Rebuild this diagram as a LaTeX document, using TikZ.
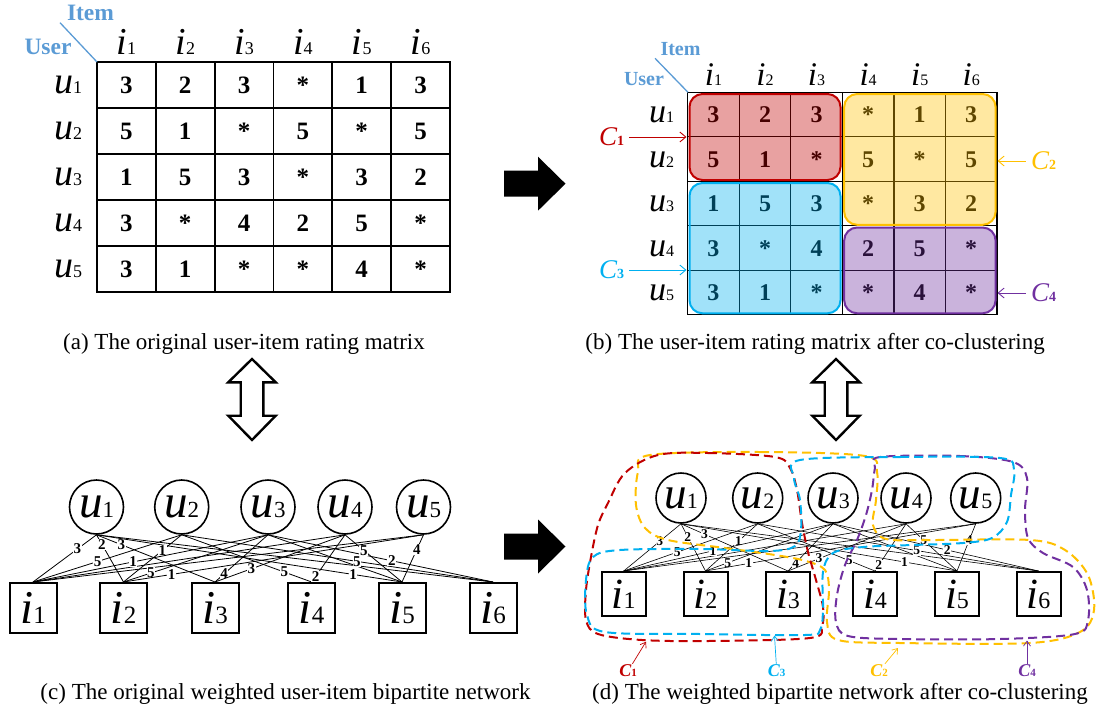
\documentclass[tikz,border=0pt]{standalone}
\usepackage{fontspec}
\setmainfont{Liberation Serif}
\usetikzlibrary{arrows.meta}
\definecolor{cred}{HTML}{C00000}
\definecolor{cyel}{HTML}{FFC000}
\definecolor{cblu}{HTML}{00B0F0}
\definecolor{cpur}{HTML}{7030A0}
\definecolor{hdr}{HTML}{5B9BD5}
% italic letter followed by an upright index
\newcommand\sym[4]{{\fontsize{#3}{#3}\selectfont\itshape #1}{\fontsize{#4}{#4}\selectfont #2}}
% cluster name C with a bold index
\newcommand\cname[3]{{\fontsize{#2}{#2}\selectfont\itshape C}{\fontsize{#3}{#3}\selectfont\bfseries #1}}
\newcommand\fs[1]{\fontsize{#1}{#1}\selectfont}

\begin{document}
\begin{tikzpicture}[x=1pt,y=-1pt,
  rcell/.style={font=\fs{25}\bfseries, text height=17pt, text depth=0pt, inner sep=0pt},
  rcellb/.style={font=\fs{24}\bfseries, text height=16pt, text depth=0pt, inner sep=0pt},
  hdrtxt/.style={font=\bfseries, text=hdr, inner sep=0pt},
  unode/.style={draw, circle, fill=white, line width=1.6pt, inner sep=0pt},
  inode/.style={draw, rectangle, fill=white, line width=2pt, inner sep=0pt},
  wlab/.style={fill=white, inner sep=0.6pt, font=\bfseries},
  clusfill/.style={fill=#1, fill opacity=0.37},
  clusline/.style={draw=#1, line width=2pt},
  clusdash/.style={draw=#1, line width=2pt, dash pattern=on 9pt off 5pt},
  captext/.style={inner sep=0pt, anchor=base, font=\fs{23}},
  bigarrow/.style={fill=black},
  dblarrow/.style={draw=black, fill=white, line width=2.4pt, line join=miter},
  carrow/.style={line width=0.9pt, -{Straight Barb[length=6pt,width=10pt]}},
  smallarrow/.style={line width=0.7pt, -{Straight Barb[length=5pt,width=7pt]}},
]
\useasboundingbox (0,0) rectangle (1096,710);

% ---------------- (a) rating matrix ----------------
\foreach \k in {0,...,6} \draw[line width=1.8pt] ({97+58.83*\k},62) -- ({97+58.83*\k},292);
\foreach \j in {0,...,5} \draw[line width=1.8pt] (96.1,{62+46*\j}) -- (450.9,{62+46*\j});

% ---------------- (b) rating matrix after co-clustering ----------------
\foreach \k in {0,...,6} \draw[line width=1.3pt] ({687.7+51.55*\k},92.3) -- ({687.7+51.55*\k},314.8);
\foreach \j in {0,...,5} \draw[line width=1.3pt] (687.1,{92.3+44.5*\j}) -- (997.6,{92.3+44.5*\j});

% ratings, shared by both matrices
\foreach \row [count=\j] in {{3,2,3,*,1,3},{5,1,*,5,*,5},{1,5,3,*,3,2},{3,*,4,2,5,*},{3,1,*,*,4,*}} {
  \foreach \v [count=\k] in \row {
    \node[rcell]  (a\j\k) at ({97+58.83*(\k-0.5)},{62+46*(\j-0.5)}) {\v};
    \node[rcellb] (b\j\k) at ({687.7+51.55*(\k-0.5)},{92.3+44.5*(\j-0.5)}) {\v};
  }
}

% item and user headings
\foreach \k in {1,...,6} {
  \node[anchor=base, inner sep=0pt] (ah\k) at ({97+58.83*(\k-0.5)},54) {\sym{i}{\k}{38}{18}};
  \node[anchor=base, inner sep=0pt] (bh\k) at ({687.7+51.55*(\k-0.5)},85) {\sym{i}{\k}{33}{16}};
}
\foreach \j in {1,...,5} {
  \node[anchor=base, inner sep=0pt] (ar\j) at (68,{62+46*(\j-0.5)+8}) {\sym{u}{\j}{38}{18}};
  \node[anchor=base, inner sep=0pt] (br\j) at (661.7,{92.3+44.5*(\j-0.5)+8}) {\sym{u}{\j}{34}{16}};
}

% corner captions of the matrices
\node[hdrtxt, font=\fs{23.5}\bfseries] (aItem) at (90.5,12.5) {Item};
\node[hdrtxt, font=\fs{23.5}\bfseries] (aUser) at (48,47) {User};
\coordinate (ad0) at (60,22.7);
\coordinate (ad1) at (97,62);
\draw[hdr, line width=1.3pt] (ad0) -- (ad1);
\node[hdrtxt, font=\fs{20}\bfseries] (bItem) at (680.5,49) {Item};
\node[hdrtxt, font=\fs{20}\bfseries] (bUser) at (644,79) {User};
\coordinate (bd0) at (655,58.3);
\coordinate (bd1) at (688,92.3);
\draw[hdr, line width=1.3pt] (bd0) -- (bd1);

% co-clusters laid over the matrix
\begin{scope}[rounded corners=13pt]
  \fill[clusfill=cred] (689.5,94) rectangle (840.5,180);
  \fill[clusfill=cyel] (844.2,94) rectangle (995.6,224.8);
  \fill[clusfill=cblu] (689.5,183) rectangle (840.5,313.3);
  \fill[clusfill=cpur] (844.2,227.5) rectangle (995.6,313.3);
  \draw[clusline=cred] (689.5,94) rectangle (840.5,180);
  \draw[clusline=cyel] (844.2,94) rectangle (995.6,224.8);
  \draw[clusline=cblu] (689.5,183) rectangle (840.5,313.3);
  \draw[clusline=cpur] (844.2,227.5) rectangle (995.6,313.3);
\end{scope}

% cluster names with pointers
\node[text=cred, inner sep=1pt] (cb1) at (611.5,137) {\cname{1}{27}{14}};
\coordinate (tb1) at (686.5,137);
\draw[cred, carrow] (cb1.east) ++(4,0) -- (tb1);
\node[text=cblu, inner sep=1pt] (cb3) at (611.5,270) {\cname{3}{27}{14}};
\coordinate (tb3) at (686.5,270);
\draw[cblu, carrow] (cb3.east) ++(4,0) -- (tb3);
\node[text=cyel, inner sep=1pt] (cb2) at (1043.5,161) {\cname{2}{27}{14}};
\coordinate (tb2) at (997.5,161);
\draw[cyel, carrow] (cb2.west) ++(-4,0) -- (tb2);
\node[text=cpur, inner sep=1pt] (cb4) at (1043.5,293) {\cname{4}{27}{14}};
\coordinate (tb4) at (997.5,293);
\draw[cpur, carrow] (cb4.west) ++(-4,0) -- (tb4);

% captions of the upper panels
\node[captext] (capA) at (244,349.5) {(a) The original user-item rating matrix};
\node[captext, anchor=base east] (capB) at (1045,349.5) {(b) The user-item rating matrix after co-clustering};

% block arrows between the panels
\foreach \dy in {0,362.8} {
  \fill[bigarrow] (504,{170.7+\dy}) -- (538,{170.7+\dy}) -- (538,{156.7+\dy}) -- (565.5,{183.7+\dy})
     -- (538,{210.7+\dy}) -- (538,{196.7+\dy}) -- (504,{196.7+\dy}) -- cycle;
}
\foreach \cx in {252,836} {
  \draw[dblarrow] (\cx,359) -- ({\cx+23.7},382.3) -- ({\cx+11.3},382.3) -- ({\cx+11.3},415.7)
     -- ({\cx+23.7},415.7) -- (\cx,440) -- ({\cx-23.7},415.7) -- ({\cx-11.3},415.7)
     -- ({\cx-11.3},382.3) -- ({\cx-23.7},382.3) -- cycle;
}

% ---------------- (c) weighted bipartite network ----------------
\foreach \x [count=\n] in {96.5,181.7,268,345,423.5}
  \node[unode, minimum size=54pt] (cu\n) at (\x,507) {\sym{u}{\n}{47}{23}};
\foreach \x [count=\n] in {33,123.5,215,311.7,402,493}
  \node[inode, minimum width=47pt, minimum height=50pt] (ci\n) at (\x,608) {\sym{i}{\n}{47}{25}};

\foreach \u/\i in {1/6,3/5,4/1,5/1}
  \draw[line width=0.8pt] (cu\u.south) -- (ci\i.north);
\foreach \u/\i/\w/\p in {1/1/3/0.3, 1/2/2/0.2, 1/3/3/0.21, 1/5/1/0.84, 2/1/5/0.565, 2/2/1/0.33,
    2/4/5/0.79, 2/6/5/0.563, 3/1/1/0.574, 3/2/5/0.81, 3/3/4/0.83, 3/6/2/0.55, 4/3/3/0.72,
    4/4/2/0.88, 4/5/5/0.33, 5/2/1/0.84, 5/5/4/0.31}
  \draw[line width=0.8pt] (cu\u.south) -- node[wlab, font=\fs{15}\bfseries, pos=\p] (cw\u\i) {\w} (ci\i.north);

\node[captext] (capC) at (285.5,699.5) {(c) The original weighted user-item bipartite network};

% ---------------- (d) network after co-clustering ----------------
\foreach \x [count=\n] in {681,757.7,833,906,975.7}
  \node[unode, minimum size=50pt] (du\n) at (\x,498) {\sym{u}{\n}{45}{22}};
\foreach \x [count=\n] in {623.7,705.5,788,875,957,1038.5}
  \node[inode, minimum width=44pt, minimum height=44pt] (di\n) at (\x,594) {\sym{i}{\n}{43}{24}};

\foreach \u/\i in {1/6,3/5,4/1,5/1}
  \draw[line width=0.6pt] (du\u.south) -- (di\i.north);
\foreach \u/\i/\w/\p in {1/1/3/0.37, 1/2/2/0.28, 1/3/3/0.22, 1/5/1/0.81, 2/1/5/0.6, 2/2/1/0.37,
    2/4/5/0.78, 2/6/5/0.566, 3/1/1/0.573, 3/2/5/0.826, 3/3/4/0.83, 3/6/2/0.556, 4/3/3/0.737,
    4/4/2/0.88, 4/5/5/0.35, 5/2/1/0.84, 5/5/4/0.35}
  \draw[line width=0.6pt] (du\u.south) -- node[wlab, font=\fs{13.5}\bfseries, pos=\p] (dw\u\i) {\w} (di\i.north);

% dashed outlines of the four co-clusters
\draw[clusdash=cyel] plot[smooth cycle, tension=0.55] coordinates {
  (650,455) (760,452) (865,456) (877,472) (876,500) (873,525) (886,539) (930,540) (1030,540)
  (1065,550) (1088,575) (1094,610) (1080,632) (1030,643) (900,643) (838,640) (827,622)
  (829,590) (825,570) (806,561) (775,555) (725,548) (668,540) (645,528) (636,505) (638,472)};
\draw[clusdash=cred] plot[smooth cycle, tension=0.55] coordinates {
  (658,455) (708,453) (775,457) (790,468) (797,490) (802,523) (808,552) (816,580) (823,607)
  (822,626) (810,638) (708,641) (642,640) (598,634) (586,620) (586,590) (591,557) (598,525)
  (608,503) (625,473)};
\draw[clusdash=cpur] plot[smooth cycle, tension=0.55] coordinates {
  (880,457) (960,456) (1013,462) (1027,478) (1025,510) (1028,538) (1043,553) (1073,567)
  (1087,590) (1088,620) (1075,634) (1000,639) (900,639) (848,636) (836,622) (837,595)
  (845,565) (857,540) (866,515) (872,490) (875,468)};
\draw[clusdash=cblu] plot[smooth cycle, tension=0.55] coordinates {
  (800,460) (900,457) (1000,458) (1014,470) (1011,495) (1007,522) (992,538) (963,543)
  (913,545) (863,547) (833,553) (823,572) (823,610) (820,630) (805,635) (700,634) (605,632)
  (587,615) (586,580) (593,557) (620,550) (700,549) (770,551) (795,546) (801,530) (800,500)
  (794,478)};

% cluster names under the network
\node[text=cred, inner sep=1pt, font=\bfseries] (dc1) at (628,671) {\cname{1}{18}{11}};
\coordinate (pc1) at (646,641.7);
\draw[cred, smallarrow] (dc1) -- (pc1);
\node[text=cblu, inner sep=1pt, font=\bfseries] (dc3) at (776.7,671) {\cname{3}{18}{11}};
\coordinate (pc3) at (774.5,635.5);
\draw[cblu, smallarrow] (dc3) -- (pc3);
\node[text=cyel, inner sep=1pt, font=\bfseries] (dc2) at (879,671) {\cname{2}{18}{11}};
\coordinate (pc2) at (898,648);
\draw[cyel, smallarrow] (dc2) -- (pc2);
\node[text=cpur, inner sep=1pt, font=\bfseries] (dc4) at (1027,671) {\cname{4}{18}{11}};
\coordinate (pc4) at (1027,640.5);
\draw[cpur, smallarrow] (dc4) -- (pc4);

\node[captext, anchor=base east] (capD) at (1088,699.5) {(d) The weighted bipartite network after co-clustering};
\end{tikzpicture}
\end{document}
